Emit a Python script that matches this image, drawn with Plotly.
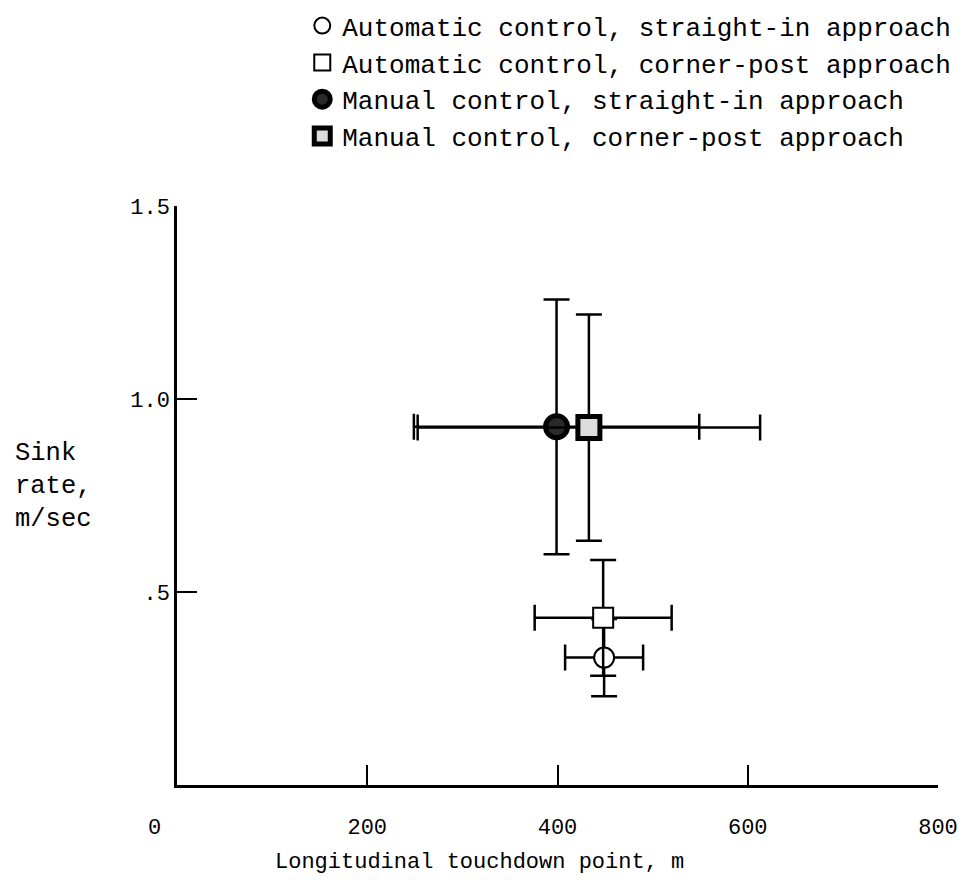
import plotly.graph_objects as go

# ---- data ----
series_names = [
    "Automatic control, straight-in approach",
    "Automatic control, corner-post approach",
    "Manual control, straight-in approach",
    "Manual control, corner-post approach",
]
touchdown_x = [449, 448, 399, 433]          # m
sink_rate = [0.33, 0.433, 0.928, 0.926]      # m/sec
x_err = [41, 72, 150, 180]
y_err = [0.10, 0.15, 0.33, 0.293]

x_tick_vals = [200, 400, 600, 800]
x_tick_text = ["200", "400", "600", "800"]
y_tick_vals = [0.5, 1.0, 1.5]
y_tick_text = [".5", "1.0", "1.5"]

FONT = "Liberation Mono"

styles = [
    dict(symbol="circle", size=20, color="white", line=dict(color="black", width=2)),
    dict(symbol="square", size=20, color="white", line=dict(color="black", width=2)),
    dict(symbol="circle", size=22, color="#2a2a2a", line=dict(color="black", width=5)),
    dict(symbol="square", size=22, color="#dcdcdc", line=dict(color="black", width=5)),
]

fig = go.Figure()
for i in range(len(series_names)):
    fig.add_trace(go.Scatter(
        x=[touchdown_x[i]], y=[sink_rate[i]],
        mode="markers",
        name=series_names[i],
        marker=styles[i],
        error_x=dict(type="data", array=[x_err[i]], color="black", thickness=2.5, width=13),
        error_y=dict(type="data", array=[y_err[i]], color="black", thickness=2.5, width=13),
    ))

fig.update_layout(
    width=966, height=880,
    margin=dict(l=177, r=28, t=206, b=95, autoexpand=False),
    paper_bgcolor="white", plot_bgcolor="white",
    font=dict(family=FONT, color="black", size=22),
    showlegend=True,
    legend=dict(
        x=1.024, xanchor="right", y=1.352, yanchor="top",
        font=dict(family=FONT, size=26, color="black"),
        bgcolor="rgba(0,0,0,0)", itemwidth=30,
    ),
    xaxis=dict(
        range=[0, 800], showgrid=False, zeroline=False,
        showline=True, linecolor="black", linewidth=2.5,
        ticks="inside", ticklen=20, tickwidth=2, tickcolor="black",
        tickvals=x_tick_vals, ticktext=x_tick_text,
        tickfont=dict(family=FONT, size=22), ticklabelstandoff=20,
    ),
    yaxis=dict(
        range=[0, 1.5], showgrid=False, zeroline=False,
        showline=True, linecolor="black", linewidth=2.5,
        ticks="inside", ticklen=20, tickwidth=2, tickcolor="black",
        tickvals=y_tick_vals, ticktext=y_tick_text,
        tickfont=dict(family=FONT, size=22), ticklabelstandoff=0,
    ),
    annotations=[
        dict(text="0", xref="paper", yref="paper", x=-0.029, xanchor="center",
             y=-0.075, yanchor="middle",
             showarrow=False, font=dict(family=FONT, size=22)),
        dict(text="Longitudinal touchdown point, m", xref="paper", yref="paper",
             x=0.397, xanchor="center", y=-0.133, yanchor="middle",
             showarrow=False, font=dict(family=FONT, size=22)),
        dict(text="Sink<br>rate,<br>m/sec", xref="paper", yref="paper",
             x=-0.216, xanchor="left", y=0.515, yanchor="middle", align="left",
             showarrow=False, font=dict(family=FONT, size=25.5)),
    ],
)

fig.write_html("out.html")
